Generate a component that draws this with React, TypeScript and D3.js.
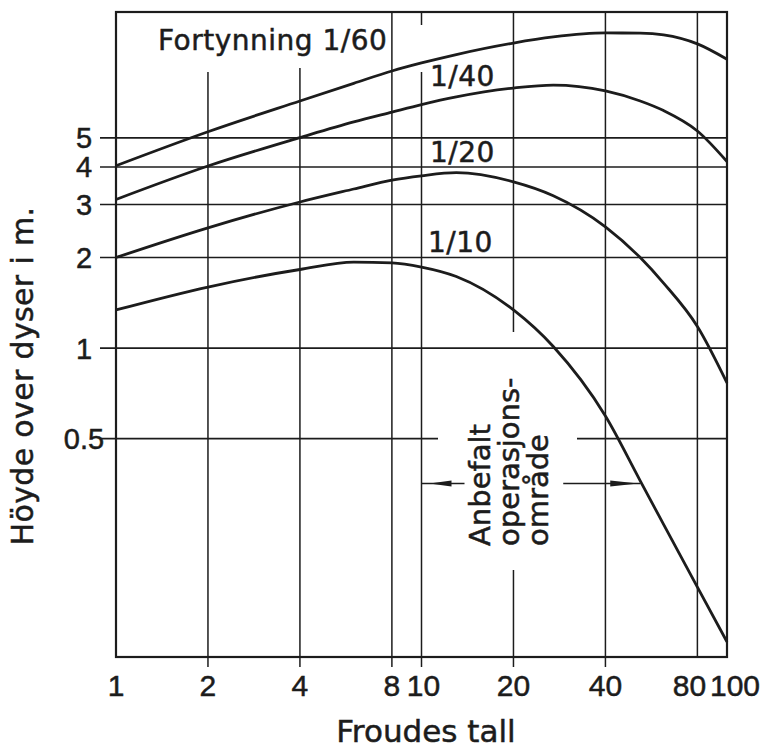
import React from 'react';
import * as d3 from 'd3';

// ---- data ----
const froude = [1, 2, 4, 6, 8, 10, 13, 20, 27, 40, 52, 62, 80, 100];
const dil60 = [4.04, 5.24, 6.63, 7.59, 8.34, 8.87, 9.46, 10.33, 10.82, 11.16, 11.14, 10.99, 10.26, 9.12];
const dil40 = [3.12, 4.03, 5.01, 5.65, 6.09, 6.45, 6.84, 7.32, 7.49, 7.16, 6.63, 6.16, 5.27, 4.17];
const dil20 = [2.0, 2.51, 3.06, 3.38, 3.62, 3.74, 3.83, 3.57, 3.21, 2.53, 2.0, 1.645, 1.18, 0.766];
const dil10 = [1.339, 1.596, 1.825, 1.93, 1.92, 1.86, 1.73, 1.339, 1.012, 0.5945, 0.362, 0.2594, 0.1605, 0.1056];
const seriesNames = ['1/60', '1/40', '1/20', '1/10'];
const legendPrefix = 'Fortynning';

const xTickValues = [1, 2, 4, 8, 10, 20, 40, 80, 100];
const xGridValues = [2, 4, 8, 10, 20, 40, 80];
const xOuterTicks = [2, 4, 8, 10, 20, 40];
const yTickValues = [0.5, 1, 2, 3, 4, 5];
const xTitle = 'Froudes tall';
const yTitle = 'Höyde over dyser i m.';

const annotationLines = ['Anbefalt', 'operasjons-', 'område'];
const rangeStart = 10;
const rangeEnd = 52;
const arrowLevel = 0.355;

// ---- layout ----
const W = 767;
const H = 749;
const left = 116;
const right = 727;
const top = 12;
const bottom = 657;
const ink = '#1c1c1c';

const x = d3.scaleLog().domain([1, 100]).range([left, right]);
const y = d3.scaleLog().domain([0.094, 13.1]).range([bottom, top]);

// gaps in grid lines (where the drawing leaves room for lettering)
const vGaps: Record<number, [number, number][]> = {
  2: [[12, 72]],
  4: [[12, 68]],
  10: [[25, 72]],
  20: [[332, 570]],
};
const hGaps: Record<number, [number, number][]> = {
  0.5: [[438, 577]],
};

function split(a: number, b: number, gaps: [number, number][] = []): [number, number][] {
  let segs: [number, number][] = [[a, b]];
  for (const [g0, g1] of gaps) {
    const next: [number, number][] = [];
    for (const [s0, s1] of segs) {
      if (g1 <= s0 || g0 >= s1) { next.push([s0, s1]); continue; }
      if (g0 > s0) next.push([s0, g0]);
      if (g1 < s1) next.push([g1, s1]);
    }
    segs = next;
  }
  return segs;
}

const xNudge: Record<number, number> = { 10: 2, 80: -8, 100: 8 };

const sans = 'DejaVu Sans, Verdana, sans-serif';
const digits = 'Liberation Sans, Arial, sans-serif';
const textStroke = { stroke: ink, strokeWidth: 0.5 };

export default function App() {
  const series = [dil60, dil40, dil20, dil10];
  const line = d3
    .line<[number, number]>()
    .x((d) => x(d[0]))
    .y((d) => y(d[1]))
    .curve(d3.curveMonotoneX);

  const labelPos: { x: number; y: number; text: string }[] = [
    { x: 158, y: 50, text: `${legendPrefix} ${seriesNames[0]}` },
    { x: 430, y: 86, text: seriesNames[1] },
    { x: 430, y: 162, text: seriesNames[2] },
    { x: 428, y: 252, text: seriesNames[3] },
  ];

  const ay = y(arrowLevel);
  const xa = x(rangeStart);
  const xb = x(rangeEnd);

  return (
    <svg
      width={W}
      height={H}
      viewBox={`0 0 ${W} ${H}`}
      style={{ position: 'absolute', left: 0, top: 0, background: '#fff' }}
    >
      <rect x={0} y={0} width={W} height={H} fill="#fff" />
      {/* vertical grid */}
      {xGridValues.map((v) =>
        split(top, bottom, vGaps[v]).map(([a, b], i) => (
          <line key={`v${v}-${i}`} x1={x(v)} x2={x(v)} y1={a} y2={b} stroke={ink} strokeWidth={1.5} />
        ))
      )}
      {/* horizontal grid + outer ticks */}
      {yTickValues.map((v) =>
        split(left - 16, right, hGaps[v]).map(([a, b], i) => (
          <line key={`h${v}-${i}`} x1={a} x2={b} y1={y(v)} y2={y(v)} stroke={ink} strokeWidth={1.6} />
        ))
      )}
      {xOuterTicks.map((v) => (
        <line key={`xt${v}`} x1={x(v)} x2={x(v)} y1={bottom} y2={bottom + 10} stroke={ink} strokeWidth={1.5} />
      ))}
      {/* frame */}
      <rect x={left} y={top} width={right - left} height={bottom - top} fill="none" stroke={ink} strokeWidth={2.2} />

      {/* curves */}
      {series.map((s, i) => (
        <path
          key={`s${i}`}
          d={line(froude.map((f, j) => [f, s[j]] as [number, number])) || ''}
          fill="none"
          stroke={ink}
          strokeWidth={2.8}
        />
      ))}

      {/* curve labels */}
      {labelPos.map((l, i) => (
        <text key={`l${i}`} x={l.x} y={l.y} fontFamily={sans} fontSize={28} letterSpacing={0.5} fill={ink} {...textStroke}>
          {l.text}
        </text>
      ))}

      {/* axis tick labels */}
      {xTickValues.map((v) => (
        <text
          key={`xl${v}`}
          x={x(v) + (xNudge[v] || 0)}
          y={696}
          textAnchor="middle"
          fontFamily={digits}
          fontSize={30}
          fill={ink}
          {...textStroke}
        >
          {v}
        </text>
      ))}
      {yTickValues.map((v) => (
        <text
          key={`yl${v}`}
          x={84}
          y={y(v) + 10.5}
          textAnchor="middle"
          fontFamily={digits}
          fontSize={29}
          fill={ink}
          {...textStroke}
        >
          {v}
        </text>
      ))}

      {/* axis titles */}
      <text x={426} y={742} textAnchor="middle" fontFamily={sans} fontSize={31} fill={ink} {...textStroke}>
        {xTitle}
      </text>
      <text
        transform={`translate(33, 376) rotate(-90)`}
        textAnchor="middle"
        fontFamily={sans}
        fontSize={30}
        letterSpacing={0.35}
        fill={ink}
        {...textStroke}
      >
        {yTitle}
      </text>

      {/* recommended range annotation */}
      {annotationLines.map((t, i) => (
        <text
          key={`a${i}`}
          transform={`translate(${490 + i * 29}, 546) rotate(-90)`}
          fontFamily={sans}
          fontSize={29}
          fill={ink}
          {...textStroke}
        >
          {t}
        </text>
      ))}
      <line x1={xa} x2={xa + 43} y1={ay} y2={ay} stroke={ink} strokeWidth={1.5} />
      <polygon points={`${xa + 8},${ay} ${xa + 30},${ay - 3} ${xa + 30},${ay + 3}`} fill={ink} />
      <line x1={xb - 77} x2={xb} y1={ay} y2={ay} stroke={ink} strokeWidth={1.5} />
      <polygon points={`${xb - 2},${ay} ${xb - 30},${ay - 3} ${xb - 30},${ay + 3}`} fill={ink} />
    </svg>
  );
}
